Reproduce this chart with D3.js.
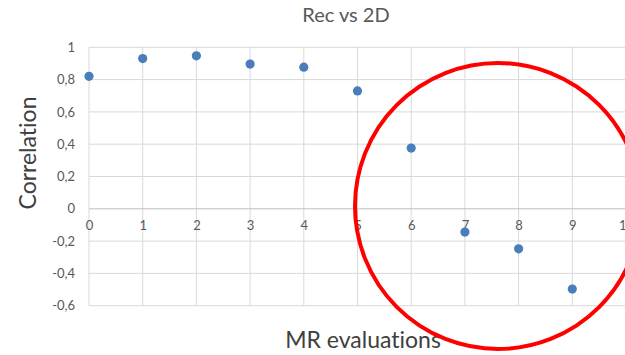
<!DOCTYPE html>
<html>
<head>
<meta charset="utf-8">
<script src="https://cdn.jsdelivr.net/npm/d3@7"></script>
<style>
  html, body { margin: 0; padding: 0; background: #fff; }
  svg { display: block; }
  text { font-family: Lato, "Open Sans", sans-serif; font-variant-ligatures: none; }
</style>
</head>
<body>
<script>
// Correlation per number of MR evaluations
const evaluations = [0, 1, 2, 3, 4, 5, 6, 7, 8, 9];
const correlation = [0.82, 0.93, 0.947, 0.896, 0.877, 0.73, 0.376, -0.144, -0.248, -0.497];

const xTicks = [0, 1, 2, 3, 4, 5, 6, 7, 8, 9, 10];
const xTickLabels = ["0", "1", "2", "3", "4", "5", "6", "7", "8", "9", "10"];
const yTicks = [1, 0.8, 0.6, 0.4, 0.2, 0, -0.2, -0.4, -0.6];
const yTickLabels = ["1", "0,8", "0,6", "0,4", "0,2", "0", "-0,2", "-0,4", "-0,6"];

const W = 625, H = 355;
const svg = d3.select("body").append("svg").attr("width", W).attr("height", H);

const x = d3.scaleLinear().domain([0, 10]).range([89, 626]);
const y = d3.scaleLinear().domain([-0.6, 1]).range([305.7, 47.3]);

// grid
const grid = svg.append("g");
grid.selectAll("line.v").data(xTicks).join("line")
  .attr("x1", d => x(d)).attr("x2", d => x(d))
  .attr("y1", y(1)).attr("y2", y(-0.6))
  .attr("stroke", "#d9d9d9").attr("stroke-width", 1);
grid.selectAll("line.h").data(yTicks).join("line")
  .attr("x1", x(0)).attr("x2", x(10))
  .attr("y1", d => y(d)).attr("y2", d => y(d))
  .attr("stroke", d => d === 0 ? "#bfbfbf" : "#d9d9d9").attr("stroke-width", 1);

// y axis labels
const yAxis = d3.axisLeft(y).tickValues(yTicks)
  .tickFormat((d, i) => yTickLabels[i]).tickSize(0).tickPadding(14);
const gy = svg.append("g").attr("transform", `translate(${x(0)},0)`).call(yAxis);
gy.select(".domain").remove();
gy.selectAll("text").attr("fill", "#595959").style("font-size", "13px")
  .style("font-family", "Lato, sans-serif");

// x axis labels along the zero line
const xAxis = d3.axisBottom(x).tickValues(xTicks)
  .tickFormat((d, i) => xTickLabels[i]).tickSize(0).tickPadding(12);
const gx = svg.append("g").attr("transform", `translate(0,${y(0)})`).call(xAxis);
gx.select(".domain").remove();
gx.selectAll("text").attr("fill", "#595959").style("font-size", "13px")
  .style("font-family", "Lato, sans-serif");

// points
svg.append("g").selectAll("circle").data(evaluations).join("circle")
  .attr("cx", d => x(d))
  .attr("cy", (d, i) => y(correlation[i]))
  .attr("r", 4.6)
  .attr("fill", "#4a7ebb");

// title and axis titles
svg.append("text").attr("x", 346).attr("y", 22).attr("text-anchor", "middle")
  .attr("fill", "#595959").style("font-size", "20px").text("Rec vs 2D");
svg.append("text").attr("x", 363).attr("y", 348).attr("text-anchor", "middle")
  .attr("fill", "#404040").style("font-size", "23px").text("MR evaluations");
svg.append("text").attr("transform", "translate(36,153) rotate(-90)")
  .attr("text-anchor", "middle").attr("fill", "#404040")
  .style("font-size", "23px").text("Correlation");

// highlight ring
svg.append("circle").attr("cx", 498).attr("cy", 206).attr("r", 143)
  .attr("fill", "none").attr("stroke", "#ff0000").attr("stroke-width", 4);
</script>
</body>
</html>
